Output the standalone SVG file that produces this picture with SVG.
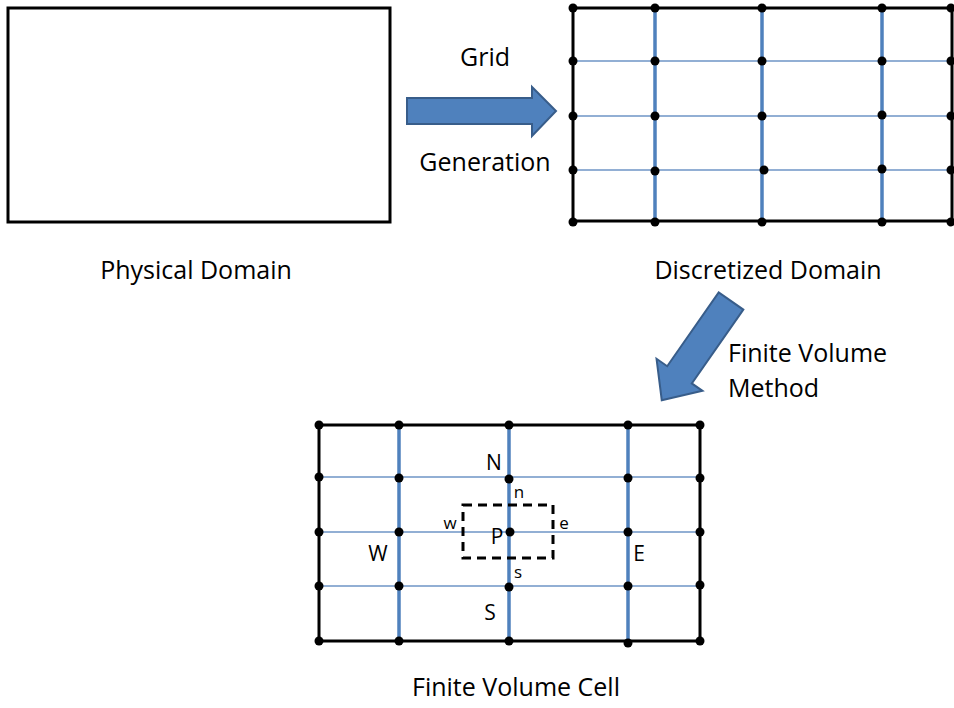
<svg xmlns="http://www.w3.org/2000/svg" width="954" height="708" viewBox="0 0 954 708">
<style>
.border{fill:none;stroke:#000;stroke-width:3}
.vl{stroke:#4F81BD;stroke-width:3.5}
.hl{stroke:#6E95C6;stroke-width:1.5}
.dot{fill:#000}
.lbl{font-family:"Open Sans","Liberation Sans",sans-serif;font-size:25px;fill:#000}
.big{font-family:"Open Sans","Liberation Sans",sans-serif;font-size:21px;fill:#000}
.sm{font-family:"Open Sans","Liberation Sans",sans-serif;font-size:17px;fill:#000}
.arrow{fill:#4F81BD;stroke:#385D8A;stroke-width:2}
.dash{fill:none;stroke:#000;stroke-width:3;stroke-dasharray:9 6}
</style>
<defs>
<circle id="d" r="4.5" class="dot"/>
</defs>
<rect width="954" height="708" fill="#fff"/>

<g id="physical-domain">
<rect class="border" x="8" y="8" width="382" height="214"/>
<text class="lbl" x="196" y="279" text-anchor="middle">Physical Domain</text>
</g>

<g id="discretized-domain">
<line class="hl" x1="573" y1="61" x2="953" y2="61"/>
<line class="hl" x1="573" y1="116" x2="953" y2="116"/>
<line class="hl" x1="573" y1="170" x2="953" y2="170"/>
<line class="vl" x1="655" y1="8" x2="655" y2="221"/>
<line class="vl" x1="762" y1="8" x2="762" y2="221"/>
<line class="vl" x1="882" y1="8" x2="882" y2="221"/>
<rect class="border" x="573" y="8" width="379" height="213"/>
<g>
<use href="#d" x="573" y="8"/><use href="#d" x="655" y="8"/><use href="#d" x="762" y="8"/><use href="#d" x="882" y="8"/><use href="#d" x="951" y="8"/>
<use href="#d" x="573" y="61"/><use href="#d" x="655" y="61"/><use href="#d" x="762" y="61"/><use href="#d" x="882" y="61"/><use href="#d" x="951" y="61"/>
<use href="#d" x="573" y="116"/><use href="#d" x="655" y="116"/><use href="#d" x="762" y="116"/><use href="#d" x="882" y="115"/><use href="#d" x="951" y="116"/>
<use href="#d" x="573" y="170"/><use href="#d" x="655" y="171"/><use href="#d" x="764" y="170"/><use href="#d" x="882" y="169"/><use href="#d" x="951" y="170"/>
<use href="#d" x="573" y="222"/><use href="#d" x="655" y="222"/><use href="#d" x="762" y="222"/><use href="#d" x="882" y="222"/><use href="#d" x="951" y="222"/>
</g>
<text class="lbl" x="768" y="279" text-anchor="middle">Discretized Domain</text>
</g>

<g id="finite-volume-cell">
<line class="hl" x1="319" y1="477" x2="700" y2="477"/>
<line class="hl" x1="319" y1="532" x2="700" y2="532"/>
<line class="hl" x1="319" y1="586" x2="700" y2="586"/>
<line class="vl" x1="399" y1="425" x2="399" y2="641"/>
<line class="vl" x1="509" y1="425" x2="509" y2="641"/>
<line class="vl" x1="628" y1="425" x2="628" y2="641"/>
<rect class="border" x="319" y="425" width="381" height="216"/>
<rect class="dash" x="463" y="505" width="90" height="53"/>
<g>
<use href="#d" x="319" y="425"/><use href="#d" x="399" y="425"/><use href="#d" x="509" y="425"/><use href="#d" x="628" y="425"/><use href="#d" x="700" y="425"/>
<use href="#d" x="319" y="477"/><use href="#d" x="399" y="478"/><use href="#d" x="509" y="479"/><use href="#d" x="628" y="478"/><use href="#d" x="700" y="478"/>
<use href="#d" x="319" y="532"/><use href="#d" x="399" y="532"/><use href="#d" x="510" y="532"/><use href="#d" x="628" y="532"/><use href="#d" x="700" y="532"/>
<use href="#d" x="319" y="586"/><use href="#d" x="399" y="586"/><use href="#d" x="509" y="587"/><use href="#d" x="628" y="586"/><use href="#d" x="700" y="585"/>
<use href="#d" x="319" y="641"/><use href="#d" x="399" y="641"/><use href="#d" x="509" y="641"/><use href="#d" x="628" y="643"/><use href="#d" x="700" y="641"/>
</g>
<text class="big" x="494" y="470" text-anchor="middle">N</text>
<text class="sm" x="519" y="498" text-anchor="middle">n</text>
<text class="sm" x="450" y="529" text-anchor="middle">w</text>
<text class="big" x="497" y="544" text-anchor="middle">P</text>
<text class="sm" x="564" y="529" text-anchor="middle">e</text>
<text class="big" x="378" y="561" text-anchor="middle">W</text>
<text class="big" x="639" y="561" text-anchor="middle">E</text>
<text class="sm" x="518" y="578" text-anchor="middle">s</text>
<text class="big" x="490" y="620" text-anchor="middle">S</text>
<text class="lbl" x="516" y="696" text-anchor="middle">Finite Volume Cell</text>
</g>

<g id="connectors">
<g id="grid-generation">
<polygon class="arrow" points="407,98 532,98 532,87 556,111 532,136 532,124 407,124"/>
<text class="lbl" x="485" y="66" text-anchor="middle">Grid</text>
<text class="lbl" x="485" y="171" text-anchor="middle">Generation</text>
</g>
<g id="finite-volume-method">
<polygon class="arrow" transform="translate(731,301) rotate(124.9)" points="0,-15 90,-15 90,-28 121,0 90,28 90,15 0,15"/>
<text class="lbl" x="728" y="362">Finite Volume</text>
<text class="lbl" x="728" y="397">Method</text>
</g>
</g>
</svg>
